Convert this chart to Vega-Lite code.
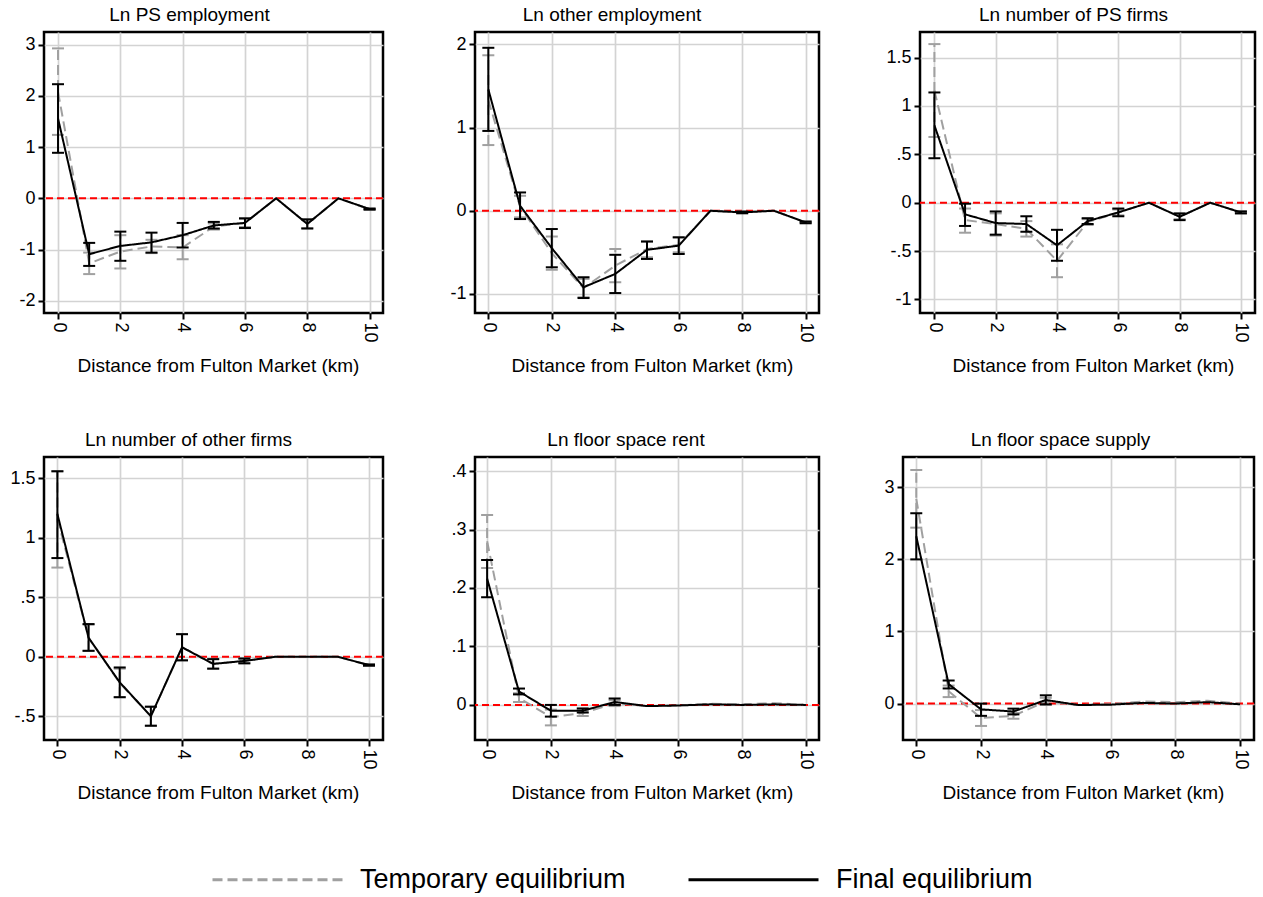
{
  "$schema": "https://vega.github.io/schema/vega-lite/v6.json",
  "padding": {"left": 0, "top": 4, "right": 0, "bottom": 0},
  "background": "white",
  "config": {
    "font": "Liberation Sans",
    "view": {"stroke": "#000000", "strokeWidth": 2.5},
    "axis": {
      "domain": false, "grid": true, "gridColor": "#d3d3d3", "gridWidth": 1.7,
      "tickColor": "#000000", "tickWidth": 2, "tickSize": 6,
      "labelFont": "Liberation Sans", "labelFontSize": 18, "labelColor": "#000000", "labelPadding": 3,
      "titleFont": "Liberation Sans", "titleFontSize": 19, "titleFontWeight": "normal", "titleColor": "#000000"
    },
    "axisX": {"labelAngle": 90, "titlePadding": 14},
    "axisY": {"format": ".2~f", "labelExpr": "replace(replace(datum.label, '\u2212', '-'), '0.', '.')"},
    "title": {"font": "Liberation Sans", "fontSize": 19, "fontWeight": "normal", "color": "#000000", "anchor": "middle", "frame": "group", "offset": 7},
    "tick": {"opacity": 1},
    "legend": {"symbolType": "stroke", "symbolSize": 16900, "symbolStrokeWidth": 3, "symbolOpacity": 1, "labelFont": "Liberation Sans", "labelFontSize": 27, "labelOffset": 16, "columnPadding": 56, "labelColor": "#000000", "labelLimit": 400}
  },
  "datasets": {
    "d": [
      {"p": "A", "s": "Temporary equilibrium", "x": 0, "y": 2.08, "lo": 1.24, "hi": 2.93},
      {"p": "A", "s": "Temporary equilibrium", "x": 1, "y": -1.27, "lo": -1.48, "hi": -1.06},
      {"p": "A", "s": "Temporary equilibrium", "x": 2, "y": -1.04, "lo": -1.37, "hi": -0.72},
      {"p": "A", "s": "Temporary equilibrium", "x": 3, "y": -0.94, "lo": -1.07, "hi": -0.81},
      {"p": "A", "s": "Temporary equilibrium", "x": 4, "y": -0.96, "lo": -1.19, "hi": -0.72},
      {"p": "A", "s": "Temporary equilibrium", "x": 5, "y": -0.55, "lo": -0.61, "hi": -0.49},
      {"p": "A", "s": "Temporary equilibrium", "x": 6, "y": -0.48, "lo": -0.56, "hi": -0.40},
      {"p": "A", "s": "Temporary equilibrium", "x": 7, "y": 0},
      {"p": "A", "s": "Temporary equilibrium", "x": 8, "y": -0.5, "lo": -0.58, "hi": -0.42},
      {"p": "A", "s": "Temporary equilibrium", "x": 9, "y": 0},
      {"p": "A", "s": "Temporary equilibrium", "x": 10, "y": -0.21, "lo": -0.22, "hi": -0.20},
      {"p": "A", "s": "Final equilibrium", "x": 0, "y": 1.56, "lo": 0.89, "hi": 2.23},
      {"p": "A", "s": "Final equilibrium", "x": 1, "y": -1.09, "lo": -1.32, "hi": -0.87},
      {"p": "A", "s": "Final equilibrium", "x": 2, "y": -0.93, "lo": -1.22, "hi": -0.65},
      {"p": "A", "s": "Final equilibrium", "x": 3, "y": -0.86, "lo": -1.06, "hi": -0.67},
      {"p": "A", "s": "Final equilibrium", "x": 4, "y": -0.72, "lo": -0.96, "hi": -0.48},
      {"p": "A", "s": "Final equilibrium", "x": 5, "y": -0.53, "lo": -0.59, "hi": -0.46},
      {"p": "A", "s": "Final equilibrium", "x": 6, "y": -0.48, "lo": -0.58, "hi": -0.39},
      {"p": "A", "s": "Final equilibrium", "x": 7, "y": 0},
      {"p": "A", "s": "Final equilibrium", "x": 8, "y": -0.5, "lo": -0.59, "hi": -0.41},
      {"p": "A", "s": "Final equilibrium", "x": 9, "y": 0},
      {"p": "A", "s": "Final equilibrium", "x": 10, "y": -0.21, "lo": -0.22, "hi": -0.20},

      {"p": "B", "s": "Temporary equilibrium", "x": 0, "y": 1.33, "lo": 0.79, "hi": 1.87},
      {"p": "B", "s": "Temporary equilibrium", "x": 1, "y": 0.05, "lo": -0.08, "hi": 0.18},
      {"p": "B", "s": "Temporary equilibrium", "x": 2, "y": -0.51, "lo": -0.71, "hi": -0.31},
      {"p": "B", "s": "Temporary equilibrium", "x": 3, "y": -0.93, "lo": -1.04, "hi": -0.82},
      {"p": "B", "s": "Temporary equilibrium", "x": 4, "y": -0.66, "lo": -0.86, "hi": -0.46},
      {"p": "B", "s": "Temporary equilibrium", "x": 5, "y": -0.46, "lo": -0.56, "hi": -0.37},
      {"p": "B", "s": "Temporary equilibrium", "x": 6, "y": -0.41, "lo": -0.50, "hi": -0.32},
      {"p": "B", "s": "Temporary equilibrium", "x": 7, "y": 0},
      {"p": "B", "s": "Temporary equilibrium", "x": 8, "y": -0.02, "lo": -0.03, "hi": -0.01},
      {"p": "B", "s": "Temporary equilibrium", "x": 9, "y": 0},
      {"p": "B", "s": "Temporary equilibrium", "x": 10, "y": -0.14, "lo": -0.15, "hi": -0.13},
      {"p": "B", "s": "Final equilibrium", "x": 0, "y": 1.46, "lo": 0.96, "hi": 1.96},
      {"p": "B", "s": "Final equilibrium", "x": 1, "y": 0.06, "lo": -0.10, "hi": 0.22},
      {"p": "B", "s": "Final equilibrium", "x": 2, "y": -0.45, "lo": -0.68, "hi": -0.22},
      {"p": "B", "s": "Final equilibrium", "x": 3, "y": -0.92, "lo": -1.05, "hi": -0.80},
      {"p": "B", "s": "Final equilibrium", "x": 4, "y": -0.76, "lo": -0.99, "hi": -0.53},
      {"p": "B", "s": "Final equilibrium", "x": 5, "y": -0.47, "lo": -0.58, "hi": -0.37},
      {"p": "B", "s": "Final equilibrium", "x": 6, "y": -0.42, "lo": -0.52, "hi": -0.32},
      {"p": "B", "s": "Final equilibrium", "x": 7, "y": 0},
      {"p": "B", "s": "Final equilibrium", "x": 8, "y": -0.02, "lo": -0.03, "hi": -0.01},
      {"p": "B", "s": "Final equilibrium", "x": 9, "y": 0},
      {"p": "B", "s": "Final equilibrium", "x": 10, "y": -0.14, "lo": -0.15, "hi": -0.13},

      {"p": "C", "s": "Temporary equilibrium", "x": 0, "y": 1.16, "lo": 0.68, "hi": 1.64},
      {"p": "C", "s": "Temporary equilibrium", "x": 1, "y": -0.18, "lo": -0.31, "hi": -0.06},
      {"p": "C", "s": "Temporary equilibrium", "x": 2, "y": -0.22, "lo": -0.34, "hi": -0.11},
      {"p": "C", "s": "Temporary equilibrium", "x": 3, "y": -0.27, "lo": -0.35, "hi": -0.19},
      {"p": "C", "s": "Temporary equilibrium", "x": 4, "y": -0.60, "lo": -0.77, "hi": -0.43},
      {"p": "C", "s": "Temporary equilibrium", "x": 5, "y": -0.20, "lo": -0.23, "hi": -0.17},
      {"p": "C", "s": "Temporary equilibrium", "x": 6, "y": -0.10, "lo": -0.13, "hi": -0.07},
      {"p": "C", "s": "Temporary equilibrium", "x": 7, "y": 0},
      {"p": "C", "s": "Temporary equilibrium", "x": 8, "y": -0.145, "lo": -0.17, "hi": -0.12},
      {"p": "C", "s": "Temporary equilibrium", "x": 9, "y": 0},
      {"p": "C", "s": "Temporary equilibrium", "x": 10, "y": -0.10, "lo": -0.11, "hi": -0.09},
      {"p": "C", "s": "Final equilibrium", "x": 0, "y": 0.80, "lo": 0.46, "hi": 1.14},
      {"p": "C", "s": "Final equilibrium", "x": 1, "y": -0.12, "lo": -0.24, "hi": -0.01},
      {"p": "C", "s": "Final equilibrium", "x": 2, "y": -0.21, "lo": -0.33, "hi": -0.09},
      {"p": "C", "s": "Final equilibrium", "x": 3, "y": -0.22, "lo": -0.30, "hi": -0.14},
      {"p": "C", "s": "Final equilibrium", "x": 4, "y": -0.44, "lo": -0.60, "hi": -0.28},
      {"p": "C", "s": "Final equilibrium", "x": 5, "y": -0.19, "lo": -0.22, "hi": -0.16},
      {"p": "C", "s": "Final equilibrium", "x": 6, "y": -0.10, "lo": -0.14, "hi": -0.06},
      {"p": "C", "s": "Final equilibrium", "x": 7, "y": 0},
      {"p": "C", "s": "Final equilibrium", "x": 8, "y": -0.145, "lo": -0.18, "hi": -0.11},
      {"p": "C", "s": "Final equilibrium", "x": 9, "y": 0},
      {"p": "C", "s": "Final equilibrium", "x": 10, "y": -0.10, "lo": -0.11, "hi": -0.09},

      {"p": "D", "s": "Temporary equilibrium", "x": 0, "y": 1.16, "lo": 0.75, "hi": 1.56},
      {"p": "D", "s": "Temporary equilibrium", "x": 1, "y": 0.16, "lo": 0.05, "hi": 0.27},
      {"p": "D", "s": "Temporary equilibrium", "x": 2, "y": -0.22, "lo": -0.34, "hi": -0.10},
      {"p": "D", "s": "Temporary equilibrium", "x": 3, "y": -0.50, "lo": -0.58, "hi": -0.42},
      {"p": "D", "s": "Temporary equilibrium", "x": 4, "y": 0.08, "lo": -0.03, "hi": 0.19},
      {"p": "D", "s": "Temporary equilibrium", "x": 5, "y": -0.06, "lo": -0.10, "hi": -0.02},
      {"p": "D", "s": "Temporary equilibrium", "x": 6, "y": -0.035, "lo": -0.055, "hi": -0.015},
      {"p": "D", "s": "Temporary equilibrium", "x": 7, "y": 0},
      {"p": "D", "s": "Temporary equilibrium", "x": 8, "y": 0},
      {"p": "D", "s": "Temporary equilibrium", "x": 9, "y": 0},
      {"p": "D", "s": "Temporary equilibrium", "x": 10, "y": -0.07, "lo": -0.075, "hi": -0.065},
      {"p": "D", "s": "Final equilibrium", "x": 0, "y": 1.20, "lo": 0.83, "hi": 1.56},
      {"p": "D", "s": "Final equilibrium", "x": 1, "y": 0.16, "lo": 0.05, "hi": 0.275},
      {"p": "D", "s": "Final equilibrium", "x": 2, "y": -0.215, "lo": -0.34, "hi": -0.09},
      {"p": "D", "s": "Final equilibrium", "x": 3, "y": -0.50, "lo": -0.58, "hi": -0.42},
      {"p": "D", "s": "Final equilibrium", "x": 4, "y": 0.08, "lo": -0.03, "hi": 0.19},
      {"p": "D", "s": "Final equilibrium", "x": 5, "y": -0.06, "lo": -0.10, "hi": -0.02},
      {"p": "D", "s": "Final equilibrium", "x": 6, "y": -0.035, "lo": -0.055, "hi": -0.015},
      {"p": "D", "s": "Final equilibrium", "x": 7, "y": 0},
      {"p": "D", "s": "Final equilibrium", "x": 8, "y": 0},
      {"p": "D", "s": "Final equilibrium", "x": 9, "y": 0},
      {"p": "D", "s": "Final equilibrium", "x": 10, "y": -0.07, "lo": -0.075, "hi": -0.065},

      {"p": "E", "s": "Temporary equilibrium", "x": 0, "y": 0.28, "lo": 0.234, "hi": 0.325},
      {"p": "E", "s": "Temporary equilibrium", "x": 1, "y": 0.012, "lo": 0.005, "hi": 0.02},
      {"p": "E", "s": "Temporary equilibrium", "x": 2, "y": -0.021, "lo": -0.035, "hi": -0.008},
      {"p": "E", "s": "Temporary equilibrium", "x": 3, "y": -0.014, "lo": -0.019, "hi": -0.009},
      {"p": "E", "s": "Temporary equilibrium", "x": 4, "y": 0.003, "lo": -0.002, "hi": 0.008},
      {"p": "E", "s": "Temporary equilibrium", "x": 5, "y": -0.002},
      {"p": "E", "s": "Temporary equilibrium", "x": 6, "y": -0.001},
      {"p": "E", "s": "Temporary equilibrium", "x": 7, "y": 0.002},
      {"p": "E", "s": "Temporary equilibrium", "x": 8, "y": 0.001},
      {"p": "E", "s": "Temporary equilibrium", "x": 9, "y": 0.003},
      {"p": "E", "s": "Temporary equilibrium", "x": 10, "y": 0},
      {"p": "E", "s": "Final equilibrium", "x": 0, "y": 0.216, "lo": 0.184, "hi": 0.248},
      {"p": "E", "s": "Final equilibrium", "x": 1, "y": 0.023, "lo": 0.018, "hi": 0.028},
      {"p": "E", "s": "Final equilibrium", "x": 2, "y": -0.01, "lo": -0.02, "hi": 0.0},
      {"p": "E", "s": "Final equilibrium", "x": 3, "y": -0.01, "lo": -0.013, "hi": -0.006},
      {"p": "E", "s": "Final equilibrium", "x": 4, "y": 0.005, "lo": 0.0, "hi": 0.011},
      {"p": "E", "s": "Final equilibrium", "x": 5, "y": -0.002},
      {"p": "E", "s": "Final equilibrium", "x": 6, "y": -0.001},
      {"p": "E", "s": "Final equilibrium", "x": 7, "y": 0.001},
      {"p": "E", "s": "Final equilibrium", "x": 8, "y": 0},
      {"p": "E", "s": "Final equilibrium", "x": 9, "y": 0.001},
      {"p": "E", "s": "Final equilibrium", "x": 10, "y": 0},

      {"p": "F", "s": "Temporary equilibrium", "x": 0, "y": 2.84, "lo": 2.44, "hi": 3.24},
      {"p": "F", "s": "Temporary equilibrium", "x": 1, "y": 0.17, "lo": 0.09, "hi": 0.25},
      {"p": "F", "s": "Temporary equilibrium", "x": 2, "y": -0.20, "lo": -0.31, "hi": -0.09},
      {"p": "F", "s": "Temporary equilibrium", "x": 3, "y": -0.17, "lo": -0.21, "hi": -0.13},
      {"p": "F", "s": "Temporary equilibrium", "x": 4, "y": 0.03, "lo": -0.02, "hi": 0.08},
      {"p": "F", "s": "Temporary equilibrium", "x": 5, "y": -0.02},
      {"p": "F", "s": "Temporary equilibrium", "x": 6, "y": -0.01},
      {"p": "F", "s": "Temporary equilibrium", "x": 7, "y": 0.03},
      {"p": "F", "s": "Temporary equilibrium", "x": 8, "y": 0.02},
      {"p": "F", "s": "Temporary equilibrium", "x": 9, "y": 0.04},
      {"p": "F", "s": "Temporary equilibrium", "x": 10, "y": 0.0},
      {"p": "F", "s": "Final equilibrium", "x": 0, "y": 2.32, "lo": 2.00, "hi": 2.64},
      {"p": "F", "s": "Final equilibrium", "x": 1, "y": 0.27, "lo": 0.21, "hi": 0.32},
      {"p": "F", "s": "Final equilibrium", "x": 2, "y": -0.08, "lo": -0.17, "hi": 0.0},
      {"p": "F", "s": "Final equilibrium", "x": 3, "y": -0.11, "lo": -0.15, "hi": -0.07},
      {"p": "F", "s": "Final equilibrium", "x": 4, "y": 0.05, "lo": -0.01, "hi": 0.115},
      {"p": "F", "s": "Final equilibrium", "x": 5, "y": -0.02},
      {"p": "F", "s": "Final equilibrium", "x": 6, "y": -0.015},
      {"p": "F", "s": "Final equilibrium", "x": 7, "y": 0.01},
      {"p": "F", "s": "Final equilibrium", "x": 8, "y": 0.0},
      {"p": "F", "s": "Final equilibrium", "x": 9, "y": 0.02},
      {"p": "F", "s": "Final equilibrium", "x": 10, "y": -0.01}
    ]
  },
  "spacing": 52,
  "resolve": {"scale": {"color": "shared", "strokeDash": "shared"}, "legend": {"color": "shared", "strokeDash": "shared"}},
  "vconcat": [
    {
      "spacing": 20,
      "hconcat": [
        {
          "width": 339, "height": 281,
          "title": {"text": "Ln PS employment", "dx": -24},
          "data": {"name": "d"},
          "layer": [
            {"data": {"values": [{}]}, "mark": {"type": "rule", "color": "#ff0000", "strokeDash": [7, 4], "strokeWidth": 2},
             "encoding": {"y": {"datum": 0, "type": "quantitative", "scale": {"domain": [-2.24, 3.25], "nice": false, "zero": false}, "axis": {"title": null, "values": [-2, -1, 0, 1, 2, 3], "minExtent": 42, "maxExtent": 42}}}},
            {"transform": [{"filter": "datum.p == 'A' && datum.s == 'Temporary equilibrium'"}],
             "encoding": {
               "x": {"field": "x", "type": "quantitative", "title": "Distance from Fulton Market (km)", "scale": {"domain": [-0.45, 10.43], "nice": false, "zero": false}, "axis": {"values": [0, 2, 4, 6, 8, 10], "titleX": 174}},
               "color": {"field": "s", "type": "nominal", "scale": {"domain": ["Temporary equilibrium", "Final equilibrium"], "range": ["#a0a0a0", "#000000"]}, "legend": {"title": null, "orient": "none", "legendX": 167, "legendY": 781, "direction": "horizontal"}},
               "strokeDash": {"field": "s", "type": "nominal", "scale": {"domain": ["Temporary equilibrium", "Final equilibrium"], "range": [[10, 5], [1, 0]]}, "legend": {"title": null, "orient": "none", "legendX": 167, "legendY": 781, "direction": "horizontal"}}
             },
             "layer": [
               {"mark": {"type": "line", "strokeWidth": 2}, "encoding": {"y": {"field": "y", "type": "quantitative", "title": null}}},
               {"mark": {"type": "rule", "strokeWidth": 2}, "encoding": {"y": {"field": "lo", "type": "quantitative", "title": null}, "y2": {"field": "hi"}}},
               {"mark": {"type": "tick", "orient": "horizontal", "size": 12, "thickness": 2, "opacity": 1}, "encoding": {"y": {"field": "lo", "type": "quantitative", "title": null}}},
               {"mark": {"type": "tick", "orient": "horizontal", "size": 12, "thickness": 2, "opacity": 1}, "encoding": {"y": {"field": "hi", "type": "quantitative", "title": null}}}
             ]},
            {"transform": [{"filter": "datum.p == 'A' && datum.s == 'Final equilibrium'"}],
             "encoding": {
               "x": {"field": "x", "type": "quantitative", "title": "Distance from Fulton Market (km)"},
               "color": {"field": "s", "type": "nominal", "scale": {"domain": ["Temporary equilibrium", "Final equilibrium"], "range": ["#a0a0a0", "#000000"]}, "legend": {"title": null}},
               "strokeDash": {"field": "s", "type": "nominal", "scale": {"domain": ["Temporary equilibrium", "Final equilibrium"], "range": [[10, 5], [1, 0]]}, "legend": {"title": null}}
             },
             "layer": [
               {"mark": {"type": "line", "strokeWidth": 2}, "encoding": {"y": {"field": "y", "type": "quantitative", "title": null}}},
               {"mark": {"type": "rule", "strokeWidth": 2}, "encoding": {"y": {"field": "lo", "type": "quantitative", "title": null}, "y2": {"field": "hi"}}},
               {"mark": {"type": "tick", "orient": "horizontal", "size": 12, "thickness": 2, "opacity": 1}, "encoding": {"y": {"field": "lo", "type": "quantitative", "title": null}}},
               {"mark": {"type": "tick", "orient": "horizontal", "size": 12, "thickness": 2, "opacity": 1}, "encoding": {"y": {"field": "hi", "type": "quantitative", "title": null}}}
             ]}
          ]
        },
        {
          "width": 344, "height": 281,
          "title": {"text": "Ln other employment", "dx": -35},
          "data": {"name": "d"},
          "layer": [
            {"data": {"values": [{}]}, "mark": {"type": "rule", "color": "#ff0000", "strokeDash": [7, 4], "strokeWidth": 2},
             "encoding": {"y": {"datum": 0, "type": "quantitative", "scale": {"domain": [-1.23, 2.15], "nice": false, "zero": false}, "axis": {"title": null, "values": [-1, 0, 1, 2], "minExtent": 67, "maxExtent": 67}}}},
            {"transform": [{"filter": "datum.p == 'B' && datum.s == 'Temporary equilibrium'"}],
             "encoding": {
               "x": {"field": "x", "type": "quantitative", "title": "Distance from Fulton Market (km)", "scale": {"domain": [-0.42, 10.42], "nice": false, "zero": false}, "axis": {"values": [0, 2, 4, 6, 8, 10], "titleX": 177}},
               "color": {"field": "s", "type": "nominal", "legend": {"title": null}},
               "strokeDash": {"field": "s", "type": "nominal", "legend": {"title": null}}
             },
             "layer": [
               {"mark": {"type": "line", "strokeWidth": 2}, "encoding": {"y": {"field": "y", "type": "quantitative", "title": null}}},
               {"mark": {"type": "rule", "strokeWidth": 2}, "encoding": {"y": {"field": "lo", "type": "quantitative", "title": null}, "y2": {"field": "hi"}}},
               {"mark": {"type": "tick", "orient": "horizontal", "size": 12, "thickness": 2, "opacity": 1}, "encoding": {"y": {"field": "lo", "type": "quantitative", "title": null}}},
               {"mark": {"type": "tick", "orient": "horizontal", "size": 12, "thickness": 2, "opacity": 1}, "encoding": {"y": {"field": "hi", "type": "quantitative", "title": null}}}
             ]},
            {"transform": [{"filter": "datum.p == 'B' && datum.s == 'Final equilibrium'"}],
             "encoding": {
               "x": {"field": "x", "type": "quantitative", "title": "Distance from Fulton Market (km)"},
               "color": {"field": "s", "type": "nominal", "legend": {"title": null}},
               "strokeDash": {"field": "s", "type": "nominal", "legend": {"title": null}}
             },
             "layer": [
               {"mark": {"type": "line", "strokeWidth": 2}, "encoding": {"y": {"field": "y", "type": "quantitative", "title": null}}},
               {"mark": {"type": "rule", "strokeWidth": 2}, "encoding": {"y": {"field": "lo", "type": "quantitative", "title": null}, "y2": {"field": "hi"}}},
               {"mark": {"type": "tick", "orient": "horizontal", "size": 12, "thickness": 2, "opacity": 1}, "encoding": {"y": {"field": "lo", "type": "quantitative", "title": null}}},
               {"mark": {"type": "tick", "orient": "horizontal", "size": 12, "thickness": 2, "opacity": 1}, "encoding": {"y": {"field": "hi", "type": "quantitative", "title": null}}}
             ]}
          ]
        },
        {
          "width": 335, "height": 281,
          "title": {"text": "Ln number of PS firms", "dx": -14},
          "data": {"name": "d"},
          "layer": [
            {"data": {"values": [{}]}, "mark": {"type": "rule", "color": "#ff0000", "strokeDash": [7, 4], "strokeWidth": 2},
             "encoding": {"y": {"datum": 0, "type": "quantitative", "scale": {"domain": [-1.14, 1.765], "nice": false, "zero": false}, "axis": {"title": null, "values": [-1, -0.5, 0, 0.5, 1, 1.5], "minExtent": 76, "maxExtent": 76}}}},
            {"transform": [{"filter": "datum.p == 'C' && datum.s == 'Temporary equilibrium'"}],
             "encoding": {
               "x": {"field": "x", "type": "quantitative", "title": "Distance from Fulton Market (km)", "scale": {"domain": [-0.47, 10.46], "nice": false, "zero": false}, "axis": {"values": [0, 2, 4, 6, 8, 10], "titleX": 173}},
               "color": {"field": "s", "type": "nominal", "legend": {"title": null}},
               "strokeDash": {"field": "s", "type": "nominal", "legend": {"title": null}}
             },
             "layer": [
               {"mark": {"type": "line", "strokeWidth": 2}, "encoding": {"y": {"field": "y", "type": "quantitative", "title": null}}},
               {"mark": {"type": "rule", "strokeWidth": 2}, "encoding": {"y": {"field": "lo", "type": "quantitative", "title": null}, "y2": {"field": "hi"}}},
               {"mark": {"type": "tick", "orient": "horizontal", "size": 12, "thickness": 2, "opacity": 1}, "encoding": {"y": {"field": "lo", "type": "quantitative", "title": null}}},
               {"mark": {"type": "tick", "orient": "horizontal", "size": 12, "thickness": 2, "opacity": 1}, "encoding": {"y": {"field": "hi", "type": "quantitative", "title": null}}}
             ]},
            {"transform": [{"filter": "datum.p == 'C' && datum.s == 'Final equilibrium'"}],
             "encoding": {
               "x": {"field": "x", "type": "quantitative", "title": "Distance from Fulton Market (km)"},
               "color": {"field": "s", "type": "nominal", "legend": {"title": null}},
               "strokeDash": {"field": "s", "type": "nominal", "legend": {"title": null}}
             },
             "layer": [
               {"mark": {"type": "line", "strokeWidth": 2}, "encoding": {"y": {"field": "y", "type": "quantitative", "title": null}}},
               {"mark": {"type": "rule", "strokeWidth": 2}, "encoding": {"y": {"field": "lo", "type": "quantitative", "title": null}, "y2": {"field": "hi"}}},
               {"mark": {"type": "tick", "orient": "horizontal", "size": 12, "thickness": 2, "opacity": 1}, "encoding": {"y": {"field": "lo", "type": "quantitative", "title": null}}},
               {"mark": {"type": "tick", "orient": "horizontal", "size": 12, "thickness": 2, "opacity": 1}, "encoding": {"y": {"field": "hi", "type": "quantitative", "title": null}}}
             ]}
          ]
        }
      ]
    },
    {
      "spacing": 20,
      "hconcat": [
        {
          "width": 339, "height": 283,
          "title": {"text": "Ln number of other firms", "dx": -25},
          "data": {"name": "d"},
          "layer": [
            {"data": {"values": [{}]}, "mark": {"type": "rule", "color": "#ff0000", "strokeDash": [7, 4], "strokeWidth": 2},
             "encoding": {"y": {"datum": 0, "type": "quantitative", "scale": {"domain": [-0.70, 1.68], "nice": false, "zero": false}, "axis": {"title": null, "values": [-0.5, 0, 0.5, 1, 1.5], "minExtent": 42, "maxExtent": 42}}}},
            {"transform": [{"filter": "datum.p == 'D' && datum.s == 'Temporary equilibrium'"}],
             "encoding": {
               "x": {"field": "x", "type": "quantitative", "title": "Distance from Fulton Market (km)", "scale": {"domain": [-0.43, 10.45], "nice": false, "zero": false}, "axis": {"values": [0, 2, 4, 6, 8, 10], "titleX": 174}},
               "color": {"field": "s", "type": "nominal", "legend": {"title": null}},
               "strokeDash": {"field": "s", "type": "nominal", "legend": {"title": null}}
             },
             "layer": [
               {"mark": {"type": "line", "strokeWidth": 2}, "encoding": {"y": {"field": "y", "type": "quantitative", "title": null}}},
               {"mark": {"type": "rule", "strokeWidth": 2}, "encoding": {"y": {"field": "lo", "type": "quantitative", "title": null}, "y2": {"field": "hi"}}},
               {"mark": {"type": "tick", "orient": "horizontal", "size": 12, "thickness": 2, "opacity": 1}, "encoding": {"y": {"field": "lo", "type": "quantitative", "title": null}}},
               {"mark": {"type": "tick", "orient": "horizontal", "size": 12, "thickness": 2, "opacity": 1}, "encoding": {"y": {"field": "hi", "type": "quantitative", "title": null}}}
             ]},
            {"transform": [{"filter": "datum.p == 'D' && datum.s == 'Final equilibrium'"}],
             "encoding": {
               "x": {"field": "x", "type": "quantitative", "title": "Distance from Fulton Market (km)"},
               "color": {"field": "s", "type": "nominal", "legend": {"title": null}},
               "strokeDash": {"field": "s", "type": "nominal", "legend": {"title": null}}
             },
             "layer": [
               {"mark": {"type": "line", "strokeWidth": 2}, "encoding": {"y": {"field": "y", "type": "quantitative", "title": null}}},
               {"mark": {"type": "rule", "strokeWidth": 2}, "encoding": {"y": {"field": "lo", "type": "quantitative", "title": null}, "y2": {"field": "hi"}}},
               {"mark": {"type": "tick", "orient": "horizontal", "size": 12, "thickness": 2, "opacity": 1}, "encoding": {"y": {"field": "lo", "type": "quantitative", "title": null}}},
               {"mark": {"type": "tick", "orient": "horizontal", "size": 12, "thickness": 2, "opacity": 1}, "encoding": {"y": {"field": "hi", "type": "quantitative", "title": null}}}
             ]}
          ]
        },
        {
          "width": 344, "height": 283,
          "title": {"text": "Ln floor space rent", "dx": -21},
          "data": {"name": "d"},
          "layer": [
            {"data": {"values": [{}]}, "mark": {"type": "rule", "color": "#ff0000", "strokeDash": [7, 4], "strokeWidth": 2},
             "encoding": {"y": {"datum": 0, "type": "quantitative", "scale": {"domain": [-0.06, 0.424], "nice": false, "zero": false}, "axis": {"title": null, "values": [0, 0.1, 0.2, 0.3, 0.4], "minExtent": 67, "maxExtent": 67}}}},
            {"transform": [{"filter": "datum.p == 'E' && datum.s == 'Temporary equilibrium'"}],
             "encoding": {
               "x": {"field": "x", "type": "quantitative", "title": "Distance from Fulton Market (km)", "scale": {"domain": [-0.38, 10.41], "nice": false, "zero": false}, "axis": {"values": [0, 2, 4, 6, 8, 10], "titleX": 177}},
               "color": {"field": "s", "type": "nominal", "legend": {"title": null}},
               "strokeDash": {"field": "s", "type": "nominal", "legend": {"title": null}}
             },
             "layer": [
               {"mark": {"type": "line", "strokeWidth": 2}, "encoding": {"y": {"field": "y", "type": "quantitative", "title": null}}},
               {"mark": {"type": "rule", "strokeWidth": 2}, "encoding": {"y": {"field": "lo", "type": "quantitative", "title": null}, "y2": {"field": "hi"}}},
               {"mark": {"type": "tick", "orient": "horizontal", "size": 12, "thickness": 2, "opacity": 1}, "encoding": {"y": {"field": "lo", "type": "quantitative", "title": null}}},
               {"mark": {"type": "tick", "orient": "horizontal", "size": 12, "thickness": 2, "opacity": 1}, "encoding": {"y": {"field": "hi", "type": "quantitative", "title": null}}}
             ]},
            {"transform": [{"filter": "datum.p == 'E' && datum.s == 'Final equilibrium'"}],
             "encoding": {
               "x": {"field": "x", "type": "quantitative", "title": "Distance from Fulton Market (km)"},
               "color": {"field": "s", "type": "nominal", "legend": {"title": null}},
               "strokeDash": {"field": "s", "type": "nominal", "legend": {"title": null}}
             },
             "layer": [
               {"mark": {"type": "line", "strokeWidth": 2}, "encoding": {"y": {"field": "y", "type": "quantitative", "title": null}}},
               {"mark": {"type": "rule", "strokeWidth": 2}, "encoding": {"y": {"field": "lo", "type": "quantitative", "title": null}, "y2": {"field": "hi"}}},
               {"mark": {"type": "tick", "orient": "horizontal", "size": 12, "thickness": 2, "opacity": 1}, "encoding": {"y": {"field": "lo", "type": "quantitative", "title": null}}},
               {"mark": {"type": "tick", "orient": "horizontal", "size": 12, "thickness": 2, "opacity": 1}, "encoding": {"y": {"field": "hi", "type": "quantitative", "title": null}}}
             ]}
          ]
        },
        {
          "width": 351, "height": 283,
          "title": {"text": "Ln floor space supply", "dx": -18},
          "data": {"name": "d"},
          "layer": [
            {"data": {"values": [{}]}, "mark": {"type": "rule", "color": "#ff0000", "strokeDash": [7, 4], "strokeWidth": 2},
             "encoding": {"y": {"datum": 0, "type": "quantitative", "scale": {"domain": [-0.505, 3.42], "nice": false, "zero": false}, "axis": {"title": null, "values": [0, 1, 2, 3], "minExtent": 59, "maxExtent": 59}}}},
            {"transform": [{"filter": "datum.p == 'F' && datum.s == 'Temporary equilibrium'"}],
             "encoding": {
               "x": {"field": "x", "type": "quantitative", "title": "Distance from Fulton Market (km)", "scale": {"domain": [-0.41, 10.43], "nice": false, "zero": false}, "axis": {"values": [0, 2, 4, 6, 8, 10], "titleX": 180}},
               "color": {"field": "s", "type": "nominal", "legend": {"title": null}},
               "strokeDash": {"field": "s", "type": "nominal", "legend": {"title": null}}
             },
             "layer": [
               {"mark": {"type": "line", "strokeWidth": 2}, "encoding": {"y": {"field": "y", "type": "quantitative", "title": null}}},
               {"mark": {"type": "rule", "strokeWidth": 2}, "encoding": {"y": {"field": "lo", "type": "quantitative", "title": null}, "y2": {"field": "hi"}}},
               {"mark": {"type": "tick", "orient": "horizontal", "size": 12, "thickness": 2, "opacity": 1}, "encoding": {"y": {"field": "lo", "type": "quantitative", "title": null}}},
               {"mark": {"type": "tick", "orient": "horizontal", "size": 12, "thickness": 2, "opacity": 1}, "encoding": {"y": {"field": "hi", "type": "quantitative", "title": null}}}
             ]},
            {"transform": [{"filter": "datum.p == 'F' && datum.s == 'Final equilibrium'"}],
             "encoding": {
               "x": {"field": "x", "type": "quantitative", "title": "Distance from Fulton Market (km)"},
               "color": {"field": "s", "type": "nominal", "legend": {"title": null}},
               "strokeDash": {"field": "s", "type": "nominal", "legend": {"title": null}}
             },
             "layer": [
               {"mark": {"type": "line", "strokeWidth": 2}, "encoding": {"y": {"field": "y", "type": "quantitative", "title": null}}},
               {"mark": {"type": "rule", "strokeWidth": 2}, "encoding": {"y": {"field": "lo", "type": "quantitative", "title": null}, "y2": {"field": "hi"}}},
               {"mark": {"type": "tick", "orient": "horizontal", "size": 12, "thickness": 2, "opacity": 1}, "encoding": {"y": {"field": "lo", "type": "quantitative", "title": null}}},
               {"mark": {"type": "tick", "orient": "horizontal", "size": 12, "thickness": 2, "opacity": 1}, "encoding": {"y": {"field": "hi", "type": "quantitative", "title": null}}}
             ]}
          ]
        }
      ]
    }
  ]
}
